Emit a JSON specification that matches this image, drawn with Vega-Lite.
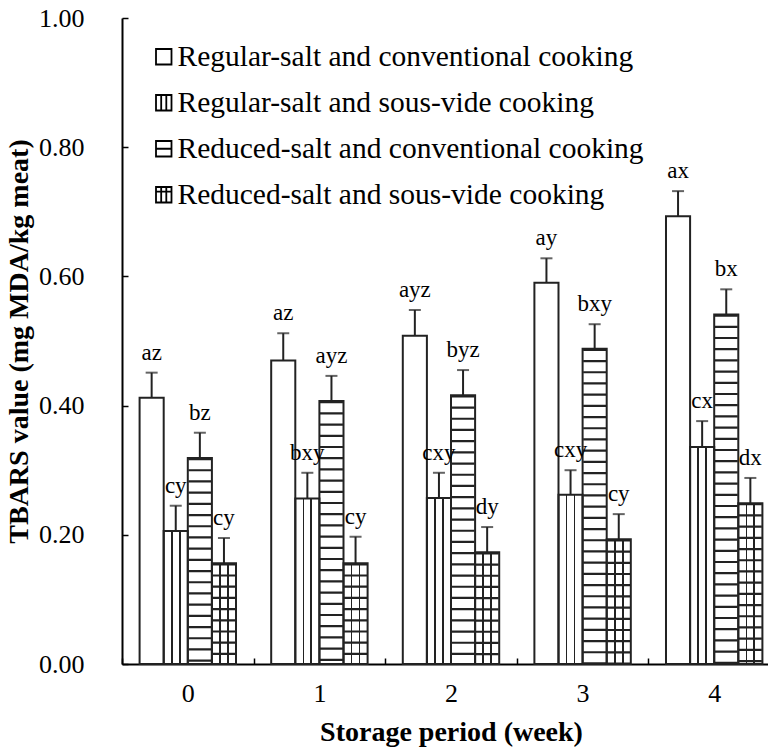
{
  "$schema": "https://vega.github.io/schema/vega-lite/v6.json",
  "width": 646,
  "height": 646,
  "autosize": {"type": "none"},
  "padding": {"left": 122, "top": 18, "right": 0, "bottom": 87},
  "background": "white",
  "config": {
    "view": {"stroke": null},
    "font": "Liberation Serif, Times New Roman, serif",
    "legend": {"labelFont": "Liberation Serif, Times New Roman, serif", "labelFontSize": 29.5, "labelColor": "black"},
    "axis": {
      "domainColor": "black", "domainWidth": 2,
      "tickColor": "black", "tickWidth": 1.5, "tickSize": -6,
      "labelFont": "Liberation Serif, Times New Roman, serif", "labelFontSize": 26, "labelColor": "black",
      "titleFont": "Liberation Serif, Times New Roman, serif", "titleFontSize": 28, "titleFontWeight": "bold", "titleColor": "black",
      "grid": false
    }
  },
  "data": {
    "values": [
      {"week": "0", "series": "Regular-salt and conventional cooking", "value": 0.412, "hi": 0.451, "label": "az"},
      {"week": "0", "series": "Regular-salt and sous-vide cooking", "value": 0.206, "hi": 0.245, "label": "cy"},
      {"week": "0", "series": "Reduced-salt and conventional cooking", "value": 0.319, "hi": 0.358, "label": "bz"},
      {"week": "0", "series": "Reduced-salt and sous-vide cooking", "value": 0.156, "hi": 0.195, "label": "cy"},
      {"week": "1", "series": "Regular-salt and conventional cooking", "value": 0.470, "hi": 0.512, "label": "az"},
      {"week": "1", "series": "Regular-salt and sous-vide cooking", "value": 0.256, "hi": 0.296, "label": "bxy"},
      {"week": "1", "series": "Reduced-salt and conventional cooking", "value": 0.407, "hi": 0.446, "label": "ayz"},
      {"week": "1", "series": "Reduced-salt and sous-vide cooking", "value": 0.156, "hi": 0.197, "label": "cy"},
      {"week": "2", "series": "Regular-salt and conventional cooking", "value": 0.508, "hi": 0.548, "label": "ayz"},
      {"week": "2", "series": "Regular-salt and sous-vide cooking", "value": 0.257, "hi": 0.296, "label": "cxy"},
      {"week": "2", "series": "Reduced-salt and conventional cooking", "value": 0.416, "hi": 0.455, "label": "byz"},
      {"week": "2", "series": "Reduced-salt and sous-vide cooking", "value": 0.173, "hi": 0.212, "label": "dy"},
      {"week": "3", "series": "Regular-salt and conventional cooking", "value": 0.590, "hi": 0.628, "label": "ay"},
      {"week": "3", "series": "Regular-salt and sous-vide cooking", "value": 0.262, "hi": 0.300, "label": "cxy"},
      {"week": "3", "series": "Reduced-salt and conventional cooking", "value": 0.488, "hi": 0.526, "label": "bxy"},
      {"week": "3", "series": "Reduced-salt and sous-vide cooking", "value": 0.193, "hi": 0.232, "label": "cy"},
      {"week": "4", "series": "Regular-salt and conventional cooking", "value": 0.693, "hi": 0.732, "label": "ax"},
      {"week": "4", "series": "Regular-salt and sous-vide cooking", "value": 0.336, "hi": 0.376, "label": "cx"},
      {"week": "4", "series": "Reduced-salt and conventional cooking", "value": 0.541, "hi": 0.580, "label": "bx"},
      {"week": "4", "series": "Reduced-salt and sous-vide cooking", "value": 0.249, "hi": 0.288, "label": "dx"}
    ]
  },
  "encoding": {
    "x": {
      "field": "week", "type": "nominal",
      "scale": {"range": [0, 658], "paddingInner": 0, "paddingOuter": 0},
      "axis": {"title": "Storage period (week)", "labelAngle": 0, "tickBand": "extent", "labelPadding": 22, "titlePadding": 12}
    },
    "xOffset": {
      "field": "series", "type": "nominal",
      "scale": {
        "domain": ["Regular-salt and conventional cooking", "Regular-salt and sous-vide cooking", "Reduced-salt and conventional cooking", "Reduced-salt and sous-vide cooking"],
        "paddingInner": 0, "paddingOuter": 0.73
      }
    }
  },
  "layer": [
    {
      "mark": {"type": "bar", "fill": "white", "strokeOpacity": 0},
      "encoding": {
        "y": {
          "field": "value", "type": "quantitative",
          "scale": {"domain": [0, 1], "nice": false},
          "axis": {"title": "TBARS value (mg MDA/kg meat)", "values": [0, 0.2, 0.4, 0.6, 0.8, 1], "format": ".2f", "labelPadding": 44, "titlePadding": 5, "titleFontSize": 28}
        }
      }
    },
    {
      "transform": [{"filter": {"field": "series", "oneOf": ["Regular-salt and sous-vide cooking", "Reduced-salt and sous-vide cooking"]}}],
      "mark": {
        "type": "bar", "strokeOpacity": 0,
        "fill": {"gradient": "linear", "x1": 0, "y1": 0, "x2": 1, "y2": 0, "stops": [
          {"offset": 0, "color": "white"}, {"offset": 0.3, "color": "white"},
          {"offset": 0.3, "color": "#222"}, {"offset": 0.37, "color": "#222"},
          {"offset": 0.37, "color": "white"}, {"offset": 0.63, "color": "white"},
          {"offset": 0.63, "color": "#222"}, {"offset": 0.7, "color": "#222"},
          {"offset": 0.7, "color": "white"}, {"offset": 1, "color": "white"}
        ]}
      },
      "encoding": {"y": {"field": "value", "type": "quantitative"}}
    },
    {
      "transform": [{"filter": {"field": "series", "oneOf": ["Reduced-salt and conventional cooking", "Reduced-salt and sous-vide cooking"]}}],
      "mark": {"type": "rule", "color": "#222", "strokeWidth": 23, "strokeDash": [2.2, 9], "strokeCap": "butt"},
      "encoding": {"y": {"field": "value", "type": "quantitative"}, "y2": {"datum": 0}}
    },
    {
      "mark": {"type": "bar", "fillOpacity": 0, "stroke": "#222", "strokeWidth": 2},
      "encoding": {"y": {"field": "value", "type": "quantitative"}}
    },
    {
      "mark": {"type": "rule", "color": "#222", "strokeWidth": 2},
      "encoding": {"y": {"field": "value", "type": "quantitative"}, "y2": {"field": "hi"}}
    },
    {
      "mark": {"type": "tick", "color": "#222", "size": 12, "thickness": 2, "orient": "horizontal"},
      "encoding": {"y": {"field": "hi", "type": "quantitative"}}
    },
    {
      "mark": {"type": "text", "fontSize": 23, "font": "Liberation Serif, Times New Roman, serif", "color": "black", "baseline": "alphabetic", "dy": -13},
      "encoding": {"y": {"field": "hi", "type": "quantitative"}, "text": {"field": "label"}}
    },
    {
      "mark": {"type": "point", "opacity": 0},
      "encoding": {
        "y": {"field": "value", "type": "quantitative"},
        "shape": {
          "field": "series", "type": "nominal",
          "scale": {
            "domain": ["Regular-salt and conventional cooking", "Regular-salt and sous-vide cooking", "Reduced-salt and conventional cooking", "Reduced-salt and sous-vide cooking"],
            "range": ["M-1,-1H1V1H-1Z", "M-1,-1H1V1H-1Z M-0.33,-1V1 M0.33,-1V1", "M-1,-1H1V1H-1Z M-1,0H1", "M-1,-1H1V1H-1Z M-0.33,-1V1 M0.33,-1V1 M-1,-0.4H1"]
          },
          "legend": {
            "title": null, "orient": "none", "legendX": 27, "legendY": 24,
            "symbolSize": 240, "symbolStrokeWidth": 1.8, "symbolStrokeColor": "black", "symbolFillColor": "white", "symbolOpacity": 1,
            "labelFont": "Liberation Serif, Times New Roman, serif", "labelFontSize": 29.5, "labelColor": "black", "labelLimit": 1000, "labelOffset": -1, "rowPadding": 15
          }
        }
      }
    }
  ]
}
